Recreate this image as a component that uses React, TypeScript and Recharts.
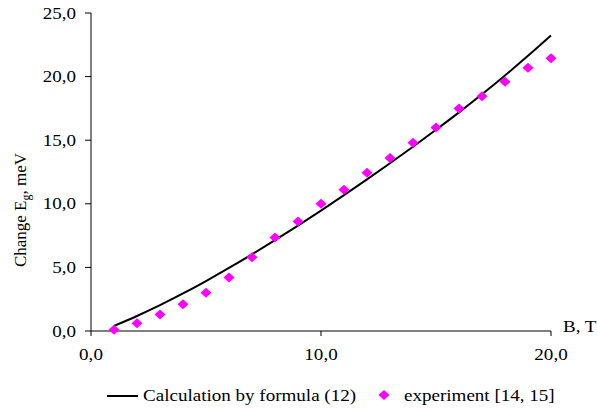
import React from "react";
import { ComposedChart, Line, Scatter, XAxis, YAxis, Legend, Label } from "recharts";

const fieldB = [1, 2, 3, 4, 5, 6, 7, 8, 9, 10, 11, 12, 13, 14, 15, 16, 17, 18, 19, 20];
const calcEg = [0.4, 1.18, 2.03, 2.95, 3.93, 4.96, 6.03, 7.14, 8.29, 9.47, 10.68, 11.92, 13.19, 14.49, 15.82, 17.19, 18.61, 20.09, 21.63, 23.23];
const expEg = [0.1, 0.6, 1.3, 2.1, 3.0, 4.2, 5.8, 7.35, 8.6, 10.0, 11.1, 12.45, 13.6, 14.8, 16.0, 17.5, 18.45, 19.6, 20.7, 21.45];
const xTicks = [0, 10, 20];
const yTicks = [0, 5, 10, 15, 20, 25];

const data = fieldB.map((b, i) => ({ b, calc: calcEg[i], exp: expEg[i] }));

const FONT = '"Liberation Serif", "Times New Roman", serif';
const STRETCH = 1.19;
const MAGENTA = "#FF00FF";

const fmt = (v: number) => v.toFixed(1).replace(".", ",");

function XTick({ x, y, payload }: any) {
  return (
    <text
      transform={`translate(${x},${y + 24}) scale(${STRETCH},1)`}
      textAnchor="middle"
      fontFamily={FONT}
      fontSize={16}
      fill="#000"
    >
      {fmt(payload.value)}
    </text>
  );
}

function YTick({ x, y, payload }: any) {
  return (
    <text
      transform={`translate(${x - 9},${y + 5.5}) scale(${STRETCH},1)`}
      textAnchor="end"
      fontFamily={FONT}
      fontSize={16}
      fill="#000"
    >
      {fmt(payload.value)}
    </text>
  );
}

function Diamond({ cx, cy }: any) {
  if (cx == null || cy == null) return null;
  return (
    <polygon
      points={`${cx},${cy - 5} ${cx + 5.5},${cy} ${cx},${cy + 5} ${cx - 5.5},${cy}`}
      fill={MAGENTA}
    />
  );
}

function LegendBox() {
  const textStyle: React.CSSProperties = {
    position: "absolute",
    top: 9,
    fontFamily: FONT,
    fontSize: 16,
    lineHeight: "16px",
    whiteSpace: "nowrap",
    color: "#000",
    transform: `scaleX(${STRETCH})`,
    transformOrigin: "left",
  };
  return (
    <div style={{ position: "relative", width: 597, height: 30 }}>
      <div style={{ position: "absolute", left: 107, top: 16, width: 31, height: 2, background: "#000" }} />
      <span style={{ ...textStyle, left: 143 }}>Calculation by formula (12)</span>
      <svg style={{ position: "absolute", left: 378, top: 10 }} width={12} height={12}>
        <polygon points="6,1 11.5,6 6,11 0.5,6" fill={MAGENTA} />
      </svg>
      <span style={{ ...textStyle, left: 404 }}>experiment [14, 15]</span>
    </div>
  );
}

function YLabel() {
  return (
    <text transform="translate(26,210) rotate(-90)" textAnchor="middle" fontFamily={FONT} fontSize={17} fill="#000">
      Change E<tspan fontSize={12} dy={4}>g</tspan>
      <tspan dy={-4}>, meV</tspan>
    </text>
  );
}

function XLabel({ viewBox }: any) {
  const x = viewBox.x + viewBox.width + 12;
  const y = viewBox.y + 1;
  return (
    <text transform={`translate(${x},${y}) scale(${STRETCH},1)`} fontFamily={FONT} fontSize={16} fill="#000">
      B, T
    </text>
  );
}

export default function App() {
  return (
    <div style={{ position: "absolute", top: 0, left: 0, background: "#fff" }}>
      <ComposedChart width={597} height={409} data={data} margin={{ top: 13, right: 46, left: 0, bottom: 0 }}>
        <XAxis
          type="number"
          dataKey="b"
          domain={[0, 20]}
          ticks={xTicks}
          height={48}
          tickSize={5}
          tickMargin={0}
          stroke="#000"
          tickLine={{ stroke: "#000" }}
          tick={<XTick />}
        >
          <Label content={<XLabel />} />
        </XAxis>
        <YAxis
          type="number"
          domain={[0, 25]}
          ticks={yTicks}
          width={91}
          tickSize={6}
          tickMargin={0}
          stroke="#000"
          tickLine={{ stroke: "#000" }}
          tick={<YTick />}
        >
          <Label content={<YLabel />} />
        </YAxis>
        <Legend verticalAlign="bottom" wrapperStyle={{ left: 0, width: 597 }} content={() => <LegendBox />} />
        <Line
          type="monotone"
          dataKey="calc"
          stroke="#000"
          strokeWidth={2}
          dot={false}
          isAnimationActive={false}
        />
        <Scatter dataKey="exp" fill={MAGENTA} shape={<Diamond />} isAnimationActive={false} />
      </ComposedChart>
    </div>
  );
}
